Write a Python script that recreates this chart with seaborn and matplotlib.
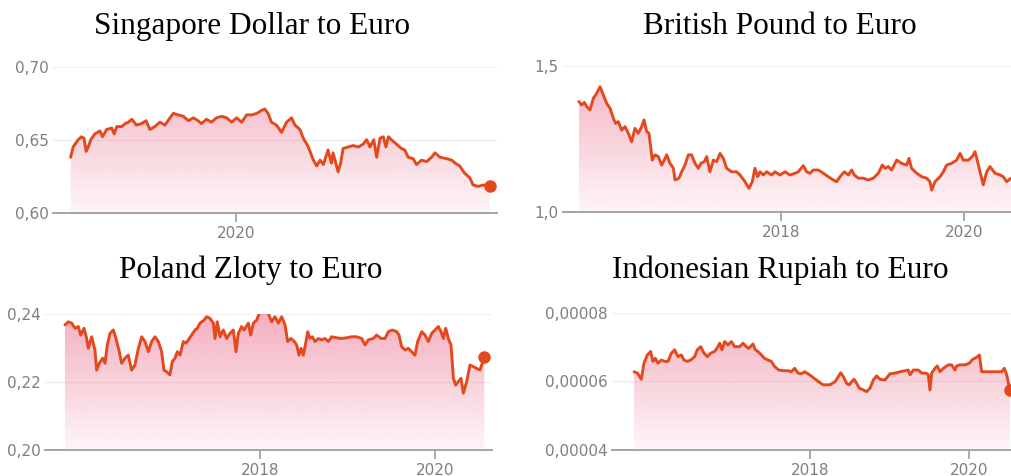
import numpy as np
import matplotlib
matplotlib.use("Agg")
import matplotlib.pyplot as plt
import matplotlib.colors as mcolors
import seaborn as sns

# time axis is in decimal years
sgd_years = [2019.606, 2019.612, 2019.624, 2019.632, 2019.638, 2019.643, 2019.648, 2019.654, 2019.664, 2019.676,
             2019.682, 2019.692, 2019.704, 2019.710, 2019.716, 2019.728, 2019.736, 2019.744, 2019.752, 2019.763,
             2019.775, 2019.786, 2019.795, 2019.807, 2019.819, 2019.831, 2019.843, 2019.851, 2019.863, 2019.875,
             2019.887, 2019.899, 2019.910, 2019.918, 2019.930, 2019.942, 2019.954, 2019.966, 2019.978, 2019.990,
             2020.002, 2020.014, 2020.026, 2020.038, 2020.050, 2020.061, 2020.069, 2020.077, 2020.085, 2020.097,
             2020.109, 2020.121, 2020.133, 2020.141, 2020.153, 2020.161, 2020.173, 2020.185, 2020.193, 2020.201,
             2020.209, 2020.220, 2020.228, 2020.232, 2020.244, 2020.250, 2020.256, 2020.268, 2020.280, 2020.292,
             2020.304, 2020.312, 2020.320, 2020.329, 2020.336, 2020.344, 2020.352, 2020.358, 2020.364, 2020.371,
             2020.383, 2020.395, 2020.403, 2020.411, 2020.423, 2020.431, 2020.443, 2020.455, 2020.467, 2020.475,
             2020.487, 2020.503, 2020.515, 2020.523, 2020.534, 2020.546, 2020.558, 2020.566, 2020.578, 2020.590,
             2020.606]
sgd_eur = [0.638, 0.645, 0.650, 0.652, 0.651, 0.642, 0.645, 0.650, 0.654, 0.656,
           0.652, 0.657, 0.658, 0.654, 0.659, 0.659, 0.661, 0.662, 0.664, 0.660,
           0.661, 0.663, 0.657, 0.659, 0.662, 0.660, 0.665, 0.668, 0.667, 0.666,
           0.663, 0.665, 0.663, 0.661, 0.664, 0.662, 0.665, 0.666, 0.665, 0.662,
           0.665, 0.662, 0.667, 0.667, 0.668, 0.670, 0.671, 0.668, 0.662, 0.660,
           0.655, 0.662, 0.665, 0.660, 0.657, 0.651, 0.645, 0.636, 0.632, 0.636,
           0.633, 0.643, 0.634, 0.641, 0.628, 0.634, 0.644, 0.645, 0.646, 0.645,
           0.647, 0.650, 0.645, 0.650, 0.638, 0.651, 0.652, 0.645, 0.652, 0.650,
           0.647, 0.644, 0.643, 0.638, 0.637, 0.633, 0.636, 0.635, 0.638, 0.641,
           0.638, 0.637, 0.636, 0.634, 0.632, 0.627, 0.624, 0.619, 0.618, 0.619,
           0.618]

gbp_years = [2015.796, 2015.826, 2015.855, 2015.880, 2015.916, 2015.953, 2015.989, 2016.026, 2016.062, 2016.098,
             2016.135, 2016.171, 2016.196, 2016.225, 2016.262, 2016.298, 2016.335, 2016.371, 2016.407, 2016.444,
             2016.480, 2016.506, 2016.535, 2016.560, 2016.596, 2016.626, 2016.662, 2016.698, 2016.727, 2016.753,
             2016.789, 2016.826, 2016.844, 2016.887, 2016.916, 2016.953, 2016.989, 2017.025, 2017.062, 2017.098,
             2017.127, 2017.164, 2017.189, 2017.225, 2017.262, 2017.298, 2017.335, 2017.371, 2017.407, 2017.462,
             2017.516, 2017.553, 2017.607, 2017.651, 2017.687, 2017.716, 2017.745, 2017.771, 2017.807, 2017.844,
             2017.898, 2017.935, 2017.989, 2018.044, 2018.098, 2018.153, 2018.189, 2018.244, 2018.280, 2018.316,
             2018.353, 2018.407, 2018.462, 2018.516, 2018.571, 2018.607, 2018.644, 2018.691, 2018.735, 2018.771,
             2018.800, 2018.844, 2018.898, 2018.953, 2019.007, 2019.062, 2019.105, 2019.135, 2019.171, 2019.207,
             2019.262, 2019.316, 2019.371, 2019.396, 2019.425, 2019.480, 2019.535, 2019.589, 2019.625, 2019.644,
             2019.680, 2019.735, 2019.771, 2019.807, 2019.862, 2019.916, 2019.953, 2019.989, 2020.044, 2020.087,
             2020.116, 2020.145, 2020.171, 2020.207, 2020.244, 2020.280, 2020.335, 2020.389, 2020.425, 2020.462,
             2020.509, 2020.560]
gbp_eur = [1.378, 1.366, 1.375, 1.361, 1.349, 1.389, 1.406, 1.429, 1.401, 1.372,
           1.355, 1.321, 1.303, 1.309, 1.280, 1.292, 1.269, 1.240, 1.286, 1.269,
           1.292, 1.315, 1.275, 1.269, 1.177, 1.195, 1.189, 1.160, 1.177, 1.195,
           1.166, 1.149, 1.109, 1.115, 1.137, 1.160, 1.195, 1.195, 1.166, 1.149,
           1.166, 1.172, 1.189, 1.137, 1.177, 1.172, 1.200, 1.183, 1.149, 1.137,
           1.137, 1.126, 1.103, 1.080, 1.103, 1.149, 1.120, 1.137, 1.126, 1.137,
           1.126, 1.137, 1.126, 1.137, 1.126, 1.132, 1.137, 1.158, 1.137, 1.132,
           1.143, 1.143, 1.132, 1.120, 1.109, 1.103, 1.120, 1.137, 1.126, 1.143,
           1.126, 1.115, 1.115, 1.109, 1.115, 1.132, 1.160, 1.149, 1.155, 1.143,
           1.177, 1.166, 1.160, 1.183, 1.149, 1.132, 1.120, 1.115, 1.103, 1.074,
           1.103, 1.120, 1.137, 1.160, 1.166, 1.177, 1.200, 1.177, 1.177, 1.189,
           1.206, 1.172, 1.137, 1.092, 1.137, 1.155, 1.132, 1.126, 1.120, 1.103,
           1.115, 1.108]

pln_years = [2015.771, 2015.810, 2015.848, 2015.886, 2015.924, 2015.950, 2015.989, 2016.019, 2016.038, 2016.076,
             2016.114, 2016.133, 2016.164, 2016.202, 2016.229, 2016.255, 2016.286, 2016.324, 2016.354, 2016.392,
             2016.419, 2016.457, 2016.495, 2016.533, 2016.571, 2016.610, 2016.648, 2016.686, 2016.724, 2016.762,
             2016.800, 2016.838, 2016.876, 2016.903, 2016.933, 2016.971, 2016.998, 2017.029, 2017.055, 2017.086,
             2017.124, 2017.154, 2017.192, 2017.219, 2017.257, 2017.284, 2017.314, 2017.360, 2017.390, 2017.429,
             2017.467, 2017.486, 2017.512, 2017.543, 2017.581, 2017.619, 2017.657, 2017.695, 2017.726, 2017.752,
             2017.790, 2017.817, 2017.867, 2017.893, 2017.924, 2017.962, 2017.992, 2018.030, 2018.057, 2018.095,
             2018.133, 2018.171, 2018.210, 2018.248, 2018.286, 2018.316, 2018.354, 2018.392, 2018.419, 2018.446,
             2018.469, 2018.495, 2018.522, 2018.545, 2018.571, 2018.598, 2018.629, 2018.667, 2018.705, 2018.743,
             2018.781, 2018.819, 2018.876, 2018.933, 2018.990, 2019.048, 2019.105, 2019.162, 2019.200, 2019.238,
             2019.295, 2019.333, 2019.383, 2019.429, 2019.467, 2019.512, 2019.562, 2019.589, 2019.619, 2019.657,
             2019.695, 2019.733, 2019.771, 2019.802, 2019.848, 2019.886, 2019.924, 2019.962, 2020.000, 2020.038,
             2020.069, 2020.095, 2020.122, 2020.152, 2020.183, 2020.210, 2020.236, 2020.267, 2020.297, 2020.324,
             2020.362, 2020.400, 2020.438, 2020.476, 2020.514, 2020.564]
pln_eur = [0.2368, 0.2377, 0.2373, 0.2358, 0.2363, 0.2338, 0.2358, 0.2328, 0.2299, 0.2333,
           0.2294, 0.2235, 0.2255, 0.2270, 0.2255, 0.2309, 0.2343, 0.2353, 0.2328, 0.2289,
           0.2255, 0.2270, 0.2279, 0.2235, 0.2250, 0.2299, 0.2333, 0.2319, 0.2289, 0.2319,
           0.2333, 0.2319, 0.2289, 0.2235, 0.2230, 0.2221, 0.2260, 0.2270, 0.2289, 0.2279,
           0.2319, 0.2314, 0.2328, 0.2338, 0.2353, 0.2358, 0.2373, 0.2382, 0.2392, 0.2387,
           0.2373, 0.2328, 0.2377, 0.2333, 0.2353, 0.2328, 0.2343, 0.2353, 0.2289, 0.2343,
           0.2363, 0.2353, 0.2373, 0.2338, 0.2373, 0.2382, 0.2402, 0.2417, 0.2407, 0.2402,
           0.2377, 0.2392, 0.2373, 0.2392, 0.2368, 0.2319, 0.2328, 0.2319, 0.2309, 0.2279,
           0.2299, 0.2279, 0.2314, 0.2348, 0.2328, 0.2333, 0.2319, 0.2328, 0.2324, 0.2328,
           0.2319, 0.2333, 0.2330, 0.2328, 0.2330, 0.2333, 0.2333, 0.2328, 0.2309, 0.2324,
           0.2328, 0.2338, 0.2328, 0.2328, 0.2348, 0.2353, 0.2348, 0.2338, 0.2304, 0.2294,
           0.2299, 0.2289, 0.2279, 0.2319, 0.2348, 0.2338, 0.2319, 0.2343, 0.2353, 0.2363,
           0.2348, 0.2328, 0.2358, 0.2328, 0.2309, 0.2211, 0.2191, 0.2201, 0.2211, 0.2167,
           0.2201, 0.2250, 0.2245, 0.2240, 0.2235, 0.2273]

idr_years = [2015.791, 2015.833, 2015.883, 2015.916, 2015.958, 2016.000, 2016.029, 2016.059, 2016.092, 2016.134,
             2016.176, 2016.218, 2016.259, 2016.301, 2016.343, 2016.385, 2016.418, 2016.460, 2016.502, 2016.552,
             2016.586, 2016.628, 2016.670, 2016.711, 2016.753, 2016.803, 2016.845, 2016.866, 2016.895, 2016.929,
             2016.971, 2017.013, 2017.054, 2017.117, 2017.159, 2017.201, 2017.230, 2017.285, 2017.314, 2017.347,
             2017.389, 2017.431, 2017.473, 2017.515, 2017.557, 2017.607, 2017.661, 2017.724, 2017.766, 2017.808,
             2017.849, 2017.891, 2017.933, 2017.996, 2018.050, 2018.109, 2018.163, 2018.251, 2018.314, 2018.356,
             2018.385, 2018.418, 2018.460, 2018.494, 2018.523, 2018.552, 2018.586, 2018.619, 2018.669, 2018.711,
             2018.753, 2018.795, 2018.837, 2018.879, 2018.941, 2019.004, 2019.067, 2019.130, 2019.192, 2019.234,
             2019.255, 2019.297, 2019.360, 2019.402, 2019.456, 2019.485, 2019.506, 2019.527, 2019.569, 2019.598,
             2019.632, 2019.674, 2019.736, 2019.778, 2019.820, 2019.841, 2019.883, 2019.946, 2020.000, 2020.042,
             2020.092, 2020.126, 2020.155, 2020.218, 2020.280, 2020.343, 2020.406, 2020.439, 2020.469, 2020.490,
             2020.510]
# in units of 1e-5 euro
idr_eur_e5 = [6.28, 6.24, 6.06, 6.53, 6.77, 6.87, 6.58, 6.67, 6.53, 6.62,
              6.58, 6.58, 6.82, 6.92, 6.72, 6.77, 6.62, 6.58, 6.62, 6.72,
              6.92, 7.01, 6.82, 6.72, 6.82, 6.87, 7.01, 7.11, 6.92, 7.16,
              7.06, 7.16, 7.01, 7.01, 7.11, 7.01, 6.96, 7.09, 6.92, 6.87,
              6.77, 6.67, 6.62, 6.58, 6.43, 6.33, 6.31, 6.31, 6.28, 6.38,
              6.24, 6.22, 6.28, 6.19, 6.09, 5.99, 5.90, 5.90, 5.99, 6.14,
              6.25, 6.14, 5.94, 5.90, 5.99, 6.06, 5.94, 5.80, 5.75, 5.70,
              5.80, 6.04, 6.16, 6.06, 6.04, 6.22, 6.24, 6.28, 6.31, 6.33,
              6.19, 6.33, 6.33, 6.24, 6.24, 6.19, 5.75, 6.24, 6.38, 6.45,
              6.28, 6.38, 6.48, 6.48, 6.33, 6.45, 6.48, 6.48, 6.53, 6.64,
              6.70, 6.77, 6.28, 6.28, 6.28, 6.28, 6.28, 6.38, 6.19, 5.95,
              5.75]
idr_eur = [v * 1e-5 for v in idr_eur_e5]

titles = ["Singapore Dollar to Euro", "British Pound to Euro",
          "Poland Zloty to Euro", "Indonesian Rupiah to Euro"]

sgd_yticks = [0.60, 0.65, 0.70]
sgd_ylabels = ["0,60", "0,65", "0,70"]
gbp_yticks = [1.0, 1.5]
gbp_ylabels = ["1,0", "1,5"]
pln_yticks = [0.20, 0.22, 0.24]
pln_ylabels = ["0,20", "0,22", "0,24"]
idr_yticks = [0.00004, 0.00006, 0.00008]
idr_ylabels = ["0,00004", "0,00006", "0,00008"]

sgd_xticks = [2020]
other_xticks = [2018, 2020]

LINE = "#e4491d"
FILL = "#e8597c"
GRID = "#f0f0f0"
AXIS = "#a3a3a3"
TEXT = "#7f7f7f"

sns.set_style("white")
plt.rcParams["font.family"] = ["DejaVu Sans"]

W, H = 1011, 476
fig = plt.figure(figsize=(W / 100, H / 100), dpi=100)


def px_axes(left, top, right, bottom):
    return fig.add_axes([left / W, 1 - bottom / H, (right - left) / W, (bottom - top) / H])


def draw_panel(ax, years, values, xlim, yticks, ylabels, xticks, end_dot=True):
    ymin, ymax = yticks[0], yticks[-1]
    sns.lineplot(x=years, y=values, ax=ax, color=LINE, linewidth=2.1, zorder=4)

    # pink vertical gradient under the line
    grad = np.zeros((256, 1, 4))
    grad[..., :3] = mcolors.to_rgb(FILL)
    grad[:, 0, 3] = np.linspace(0.06, 0.48, 256)
    poly = ax.fill_between(years, values, ymin, facecolor="none", edgecolor="none")
    im = ax.imshow(grad, extent=[xlim[0], xlim[1], ymin, ymax], origin="lower",
                   aspect="auto", zorder=2, interpolation="bilinear")
    im.set_clip_path(poly.get_paths()[0], transform=ax.transData)

    if end_dot:
        ax.plot(years[-1], values[-1], "o", ms=8, color=LINE, zorder=5, clip_on=False)

    ax.set_xlim(*xlim)
    ax.set_ylim(ymin, ymax)
    ax.set_yticks(yticks)
    ax.set_yticklabels(ylabels)
    ax.set_xticks(xticks)
    ax.set_xticklabels([str(t) for t in xticks])
    ax.set_xlabel("")
    ax.set_ylabel("")
    ax.grid(axis="y", color=GRID, linewidth=1.0, zorder=0)
    ax.grid(axis="x", visible=False)
    sns.despine(ax=ax, left=True)
    ax.spines["bottom"].set_color(AXIS)
    ax.spines["bottom"].set_linewidth(1.4)
    ax.spines["bottom"].set_zorder(6)
    ax.tick_params(axis="y", length=0, pad=3, labelsize=11, labelcolor=TEXT)
    ax.tick_params(axis="x", direction="out", length=6.5, width=1.3, color=AXIS,
                   pad=3, labelsize=11, labelcolor=TEXT, bottom=True)
    ax.set_facecolor("none")


ax1 = px_axes(53, 66.7, 497, 212.7)
draw_panel(ax1, sgd_years, sgd_eur, (2019.564, 2020.623), sgd_yticks, sgd_ylabels, sgd_xticks)

ax2 = px_axes(563, 66, 1025, 211.7)
draw_panel(ax2, gbp_years, gbp_eur, (2015.622, 2020.662), gbp_yticks, gbp_ylabels, other_xticks,
           end_dot=False)

ax3 = px_axes(45, 314, 491.7, 450)
draw_panel(ax3, pln_years, pln_eur, (2015.543, 2020.648), pln_yticks, pln_ylabels, other_xticks)

ax4 = px_axes(611.7, 312.7, 1020, 450)
draw_panel(ax4, idr_years, idr_eur, (2015.511, 2020.636), idr_yticks, idr_ylabels, other_xticks)

title_pos = [(252, 34), (780, 34), (251, 278), (780, 278)]
for (cx, base), title in zip(title_pos, titles):
    fig.text(cx / W, 1 - base / H, title, ha="center", va="baseline",
             fontsize=22.5, family="Liberation Serif", color="black")

fig.savefig("out.png", dpi=100)
